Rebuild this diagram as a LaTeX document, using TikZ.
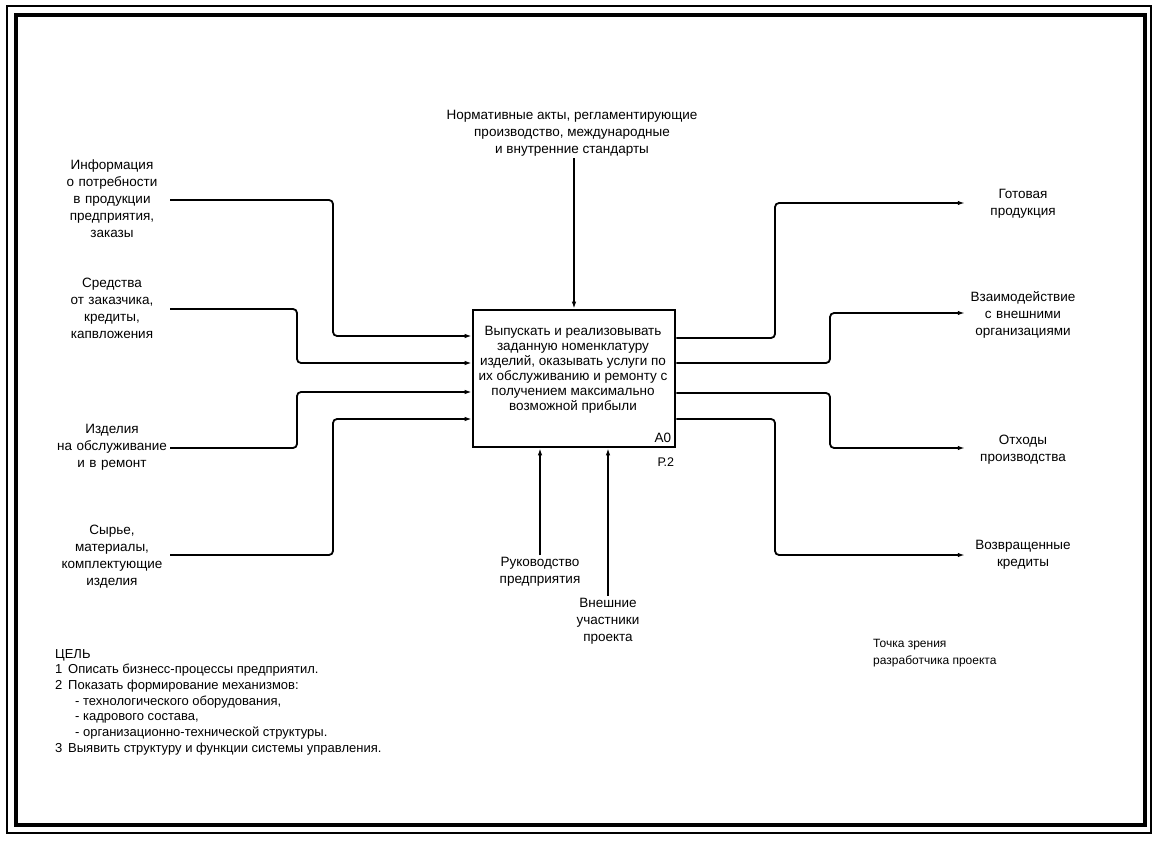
\documentclass[tikz,border=0pt]{standalone}
\usepackage{fontspec}
\setmainfont{Liberation Sans}
\usetikzlibrary{arrows.meta,positioning}

\tikzset{
  lbl/.style={align=center, inner sep=2pt, text width=112pt,
    font=\fontsize{13.5}{17}\selectfont},
  toplbl/.style={align=center, inner sep=2pt, font=\fontsize{13.5}{17}\selectfont},
  fbox/.style={draw, line width=2.6pt, minimum width=202pt, minimum height=137pt},
  ftext/.style={align=center, inner sep=0pt, font=\fontsize{13.5}{15}\selectfont},
  flow/.style={line width=1.8pt, rounded corners=4pt},
  arr/.style={flow, -{Latex[length=7pt,width=4.5pt]}},
}

\begin{document}
\begin{tikzpicture}[x=1pt, y=-1pt]
  \useasboundingbox (0,0) rectangle (1158,842);
  % frame
  \draw[line width=2pt] (7,6) rectangle (1151,833);
  \draw[line width=4pt] (16,15) rectangle (1145,825);

  % function block
  \node[fbox] (box) at (574,378.5) {};
  \node[ftext] (fname) at (573,370) {Выпускать и реализовывать\\заданную номенклатуру\\изделий, оказывать услуги по\\их обслуживанию и ремонту с\\получением максимально\\возможной прибыли};
  \node[anchor=south east, inner sep=0pt, font=\fontsize{13.5}{15}\selectfont] (num) at ([shift={(-5pt,5pt)}]box.south east) {A0};
  \node[anchor=north east, inner sep=0pt, font=\fontsize{12.5}{15}\selectfont] (page) at ([shift={(-2pt,-9pt)}]box.south east) {Р.2};

  % ports on the block
  \coordinate (i1) at (box.west |- 0,336);
  \coordinate (i2) at (box.west |- 0,363);
  \coordinate (i3) at (box.west |- 0,392);
  \coordinate (i4) at (box.west |- 0,419);
  \coordinate (o1) at (box.east |- 0,338);
  \coordinate (o2) at (box.east |- 0,363);
  \coordinate (o3) at (box.east |- 0,393);
  \coordinate (o4) at (box.east |- 0,419);

  % inputs
  \node[lbl] (info) at (112,199) {Информация\\о потребности\\в продукции\\предприятия,\\заказы};
  \node[lbl] (money) at (112,308) {Средства\\от заказчика,\\кредиты,\\капвложения};
  \node[lbl] (repair) at (112,447) {Изделия\\на обслуживание\\и в ремонт};
  \node[lbl] (raw) at (112,557) {Сырье,\\материалы,\\комплектующие\\изделия};

  \draw[arr] (info.east |- 0,200) -| (333,336) -- (i1);
  \draw[arr] (money.east |- 0,309) -| (297,363) -- (i2);
  \draw[arr] (repair.east |- 0,448) -| (297,392) -- (i3);
  \draw[arr] (raw.east |- 0,555) -| (333,419) -- (i4);

  % control
  \node[toplbl] (norm) at (572,133) {Нормативные акты, регламентирующие\\производство, международные\\и внутренние стандарты};
  \draw[arr] (norm.south -| box.north) -- (box.north);

  % outputs
  \node[lbl] (ready) at (1023,204) {Готовая\\продукция};
  \node[lbl] (extern) at (1023,315) {Взаимодействие\\с внешними\\организациями};
  \node[lbl] (waste) at (1023,450) {Отходы\\производства};
  \node[lbl] (credit) at (1023,555) {Возвращенные\\кредиты};

  \draw[arr] (o1) -| (775,203) -- (ready.west |- 0,203);
  \draw[arr] (o2) -| (830,313) -- (extern.west |- 0,313);
  \draw[arr] (o3) -| (830,448) -- (waste.west |- 0,448);
  \draw[arr] (o4) -| (775,555) -- (credit.west |- 0,555);

  % mechanisms
  \node[toplbl] (head) at (540,572) {Руководство\\предприятия};
  \node[toplbl] (partner) at (608,621) {Внешние\\участники\\проекта};
  \draw[arr] (head.north) -- (head.north |- box.south);
  \draw[arr] (partner.north) -- (partner.north |- box.south);

  % notes
  \node[anchor=north west, align=left, inner sep=0pt, font=\fontsize{13}{15.7}\selectfont] (goal) at (55,649) {ЦЕЛЬ\\
    1\, Описать бизнесс-процессы предприятил.\\
    2\, Показать формирование механизмов:\\
    \hspace*{20pt}- технологического оборудования,\\
    \hspace*{20pt}- кадрового состава,\\
    \hspace*{20pt}- организационно-технической структуры.\\
    3\, Выявить структуру и функции системы управления.};
  \node[anchor=north west, align=left, inner sep=0pt, font=\fontsize{12}{17}\selectfont] (view) at (873,639) {Точка зрения\\разработчика проекта};
\end{tikzpicture}
\end{document}
